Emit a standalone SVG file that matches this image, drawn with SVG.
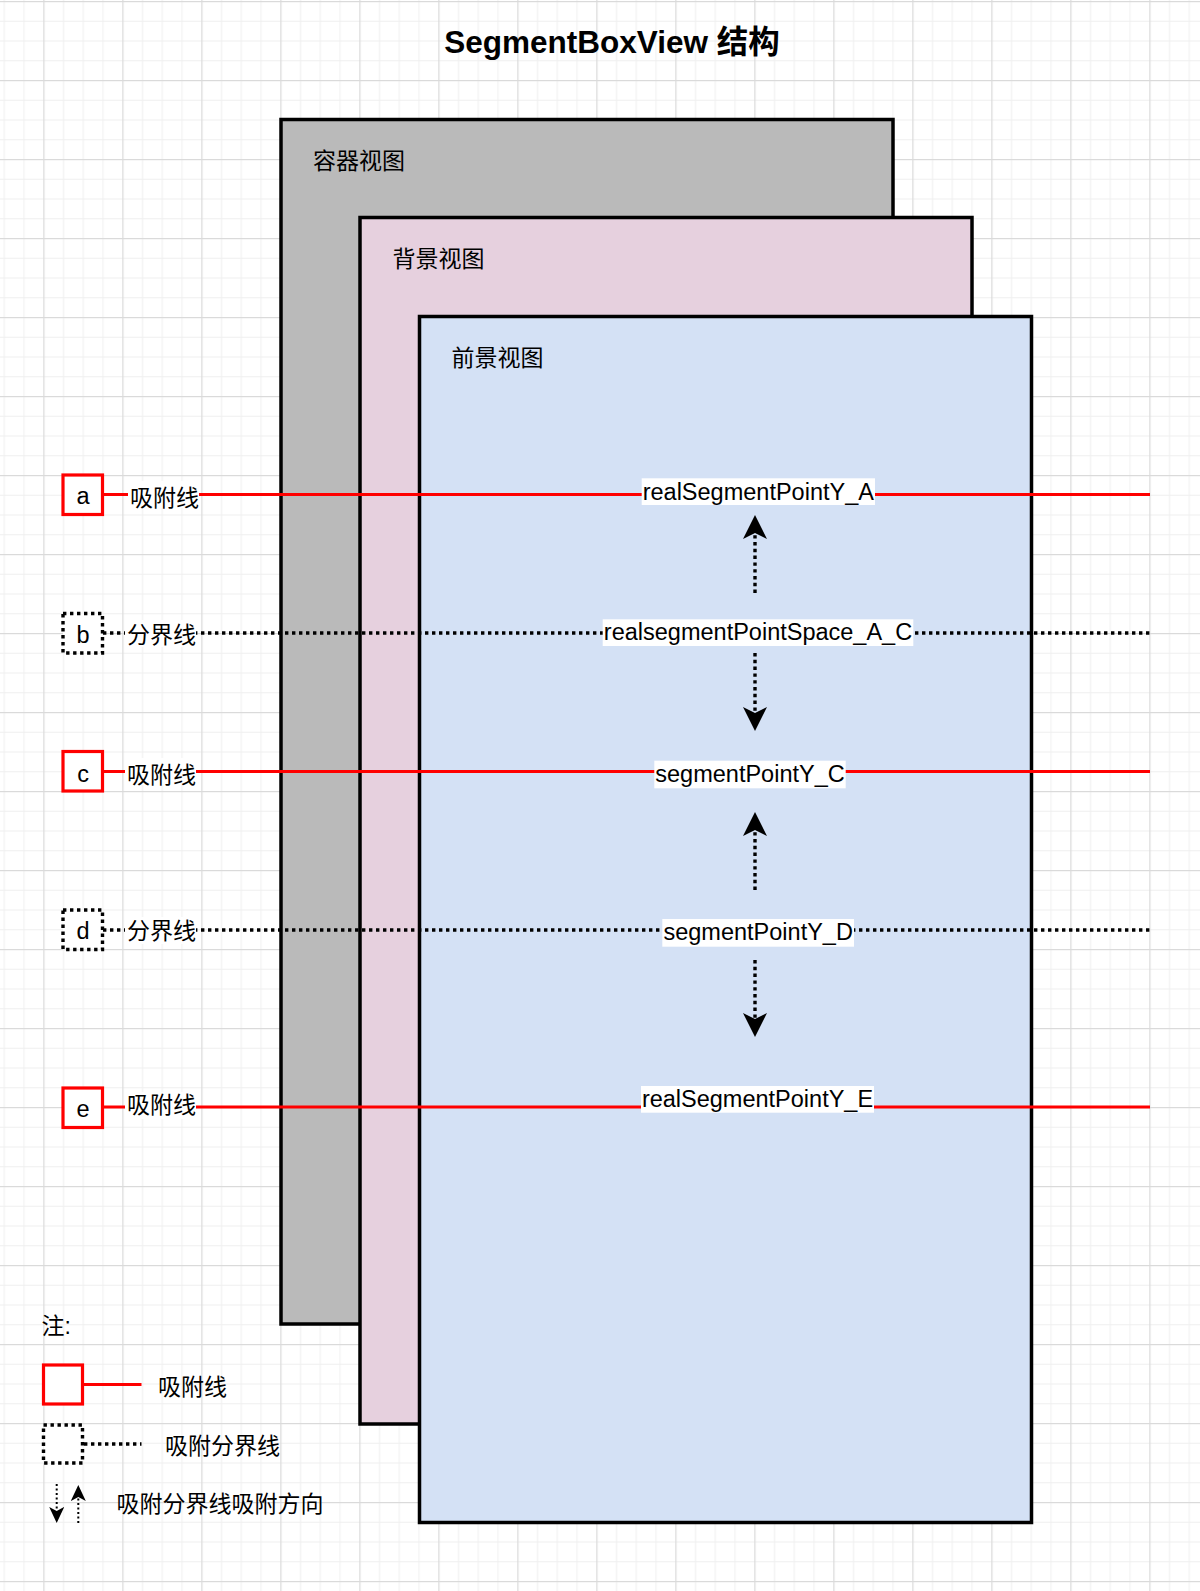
<svg xmlns="http://www.w3.org/2000/svg" width="1200" height="1591" viewBox="0 0 1200 1591">
<style>
.cjk{font-family:"Liberation Sans","Noto Sans CJK SC",sans-serif;font-size:23px;fill:#000}
.lat{font-family:"Liberation Sans","Noto Sans CJK SC",sans-serif;font-size:23.5px;fill:#000}
.mid{text-anchor:middle}
.box{stroke:#000;stroke-width:3.5}
.red{stroke:#ff0000;stroke-width:3.2;fill:none}
.dot{stroke:#000;stroke-width:3.4;stroke-dasharray:3.4 3.6;fill:none}
.redbox{fill:#fff;stroke:#ff0000;stroke-width:3.2}
.dotbox{fill:#fff;stroke:#000;stroke-width:3.4;stroke-dasharray:3.4 3.6}
.bg{fill:#fff}
.shaft{stroke:#000;stroke-width:3.4;stroke-dasharray:3.4 3.4;fill:none}
.shaft2{stroke:#000;stroke-width:2;stroke-dasharray:2 2.5;fill:none}
</style>
<defs>
<pattern id="grid" patternUnits="userSpaceOnUse" x="43.3" y="1" width="79" height="79">
<rect width="79" height="79" fill="#fff"/>
<rect x="19.75" y="0" width="1" height="79" fill="#efefef"/>
<rect x="39.5" y="0" width="1" height="79" fill="#efefef"/>
<rect x="59.25" y="0" width="1" height="79" fill="#efefef"/>
<rect x="0" y="19.75" width="79" height="1" fill="#efefef"/>
<rect x="0" y="39.5" width="79" height="1" fill="#efefef"/>
<rect x="0" y="59.25" width="79" height="1" fill="#efefef"/>
<rect x="0" y="0" width="1.2" height="79" fill="#dadada"/>
<rect x="0" y="0" width="79" height="1.2" fill="#dadada"/>
</pattern>
<marker id="arr" markerUnits="userSpaceOnUse" viewBox="0 0 24 24" markerWidth="24" markerHeight="24" refX="6" refY="12" orient="auto">
<path d="M0,0 L24,12 L0,24 L6,12 Z" fill="#000"/>
</marker>
<marker id="arrs" markerUnits="userSpaceOnUse" viewBox="0 0 16 15" markerWidth="16" markerHeight="15" refX="4" refY="7.5" orient="auto">
<path d="M0,0 L16,7.5 L0,15 L4,7.5 Z" fill="#000"/>
</marker>
</defs>
<rect width="1200" height="1591" fill="url(#grid)"/>

<text class="cjk mid" x="612" y="53" style="font-size:31.5px;font-weight:bold">SegmentBoxView 结构</text>

<g id="container">
<rect class="box" x="281" y="119.5" width="612" height="1204.5" fill="#bababa"/>
<text class="cjk" x="313" y="168.5">容器视图</text>
</g>
<g id="background">
<rect class="box" x="360" y="217.5" width="612" height="1206.5" fill="#e6d0de"/>
<text class="cjk" x="392.5" y="267">背景视图</text>
</g>
<g id="foreground">
<rect class="box" x="419.5" y="316.5" width="612" height="1206" fill="#d4e1f5"/>
<text class="cjk" x="451.5" y="365.5">前景视图</text>
</g>

<g id="connectors">
<line class="red" x1="102.5" y1="494.5" x2="1150" y2="494.5"/>
<line class="dot" x1="103" y1="633" x2="1150" y2="633"/>
<line class="red" x1="102.5" y1="771.5" x2="1150" y2="771.5"/>
<line class="dot" x1="103" y1="930" x2="1150" y2="930"/>
<line class="red" x1="102.5" y1="1107" x2="1150" y2="1107"/>
<line class="shaft" x1="755" y1="593" x2="755" y2="533" marker-end="url(#arr)"/>
<line class="shaft" x1="755" y1="653" x2="755" y2="713" marker-end="url(#arr)"/>
<line class="shaft" x1="755" y1="890" x2="755" y2="830" marker-end="url(#arr)"/>
<line class="shaft" x1="755" y1="960" x2="755" y2="1019" marker-end="url(#arr)"/>
</g>

<g id="row-a">
<rect class="redbox" x="63" y="475" width="39.5" height="39.5"/>
<text class="lat mid" x="83" y="504">a</text>
<rect class="bg" x="128" y="481" width="71" height="27"/>
<text class="cjk" x="130" y="506">吸附线</text>
<rect class="bg" x="641.7" y="478.3" width="233.3" height="26.7"/>
<text class="lat mid" x="758.3" y="499.5">realSegmentPointY_A</text>
</g>
<g id="row-b">
<rect class="dotbox" x="63" y="613.5" width="39.5" height="39.5"/>
<text class="lat mid" x="83" y="643">b</text>
<rect class="bg" x="125" y="620" width="71" height="27"/>
<text class="cjk" x="127" y="643">分界线</text>
<rect class="bg" x="602.7" y="619.3" width="310.6" height="26.7"/>
<text class="lat mid" x="758" y="640">realsegmentPointSpace_A_C</text>
</g>
<g id="row-c">
<rect class="redbox" x="63" y="751.5" width="39.5" height="39.5"/>
<text class="lat mid" x="83" y="781.5">c</text>
<rect class="bg" x="125" y="758" width="71" height="27"/>
<text class="cjk" x="127" y="783">吸附线</text>
<rect class="bg" x="654.3" y="760.7" width="191.4" height="27.6"/>
<text class="lat mid" x="750" y="782">segmentPointY_C</text>
</g>
<g id="row-d">
<rect class="dotbox" x="63" y="910" width="39.5" height="39.5"/>
<text class="lat mid" x="83" y="939">d</text>
<rect class="bg" x="125" y="917" width="71" height="27"/>
<text class="cjk" x="127" y="938.5">分界线</text>
<rect class="bg" x="662.3" y="919" width="191.7" height="27.7"/>
<text class="lat mid" x="758.2" y="940">segmentPointY_D</text>
</g>
<g id="row-e">
<rect class="redbox" x="63" y="1088" width="39.5" height="39.5"/>
<text class="lat mid" x="83" y="1116.5">e</text>
<rect class="bg" x="125" y="1092" width="71" height="27"/>
<text class="cjk" x="127" y="1113">吸附线</text>
<rect class="bg" x="641" y="1086" width="233" height="26.7"/>
<text class="lat mid" x="757.5" y="1107">realSegmentPointY_E</text>
</g>

<g id="legend">
<text class="cjk" x="41.5" y="1334">注:</text>
<rect class="redbox" x="43.5" y="1365" width="39" height="39"/>
<line class="red" x1="82.5" y1="1384.5" x2="141.5" y2="1384.5"/>
<text class="cjk" x="158" y="1395">吸附线</text>
<rect class="dotbox" x="43.5" y="1425" width="39" height="38"/>
<line class="dot" x1="84" y1="1444" x2="141.5" y2="1444"/>
<text class="cjk" x="165" y="1453.5">吸附分界线</text>
<line class="shaft2" x1="56.7" y1="1484" x2="56.7" y2="1511" marker-end="url(#arrs)"/>
<line class="shaft2" x1="78.3" y1="1523" x2="78.3" y2="1497" marker-end="url(#arrs)"/>
<text class="cjk" x="116.5" y="1512">吸附分界线吸附方向</text>
</g>
</svg>
